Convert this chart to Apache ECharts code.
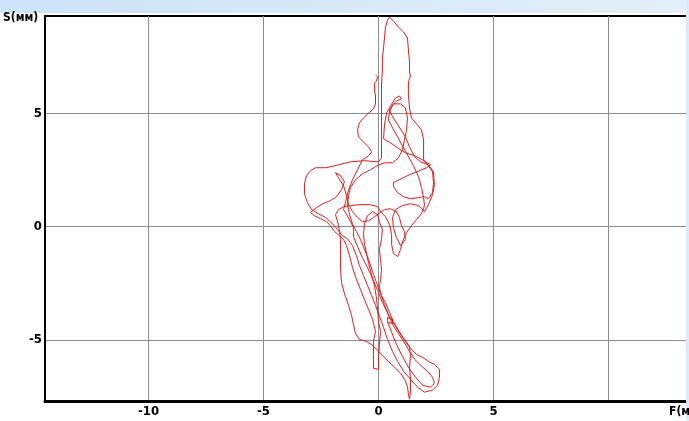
<!DOCTYPE html>
<html>
<head>
<meta charset="utf-8">
<script src="https://cdn.jsdelivr.net/npm/echarts@6/dist/echarts.min.js"></script>
<style>
  html, body { margin: 0; padding: 0; background: #fff; }
  #chart { width: 689px; height: 421px; }
</style>
</head>
<body>
<div id="chart"></div>
<script>
// Stabilogram: centre-of-pressure trace, F (frontal) vs S (sagittal), mm
const xGridTicks = [-10, -5, 0, 5, 10];
const xTickLabels = [-10, -5, 0, 5];
const yGridTicks = [-5, 0, 5];
const yTickLabels = [-5, 0, 5];
const xRange = [-14.5, 13.5];
const yRange = [-7.7, 9.3];
const xName = 'F(мм)';
const yName = 'S(мм)';

// Recorded trace, [F, S] in mm
const trace = [
  [-0.13, 6.70], [-0.04, 6.61], [-0.09, 6.43], [-0.17, 6.34], [-0.17, 5.95],
  [-0.13, 5.81], [-0.13, 5.42], [-0.22, 5.20], [-0.43, 5.02], [-0.65, 4.80],
  [-0.83, 4.58], [-0.91, 4.27], [-0.87, 3.96], [-0.65, 3.74], [-0.43, 3.52],
  [-0.30, 3.30], [-0.43, 3.13], [-0.70, 2.95], [-0.91, 2.51], [-1.13, 2.07],
  [-1.30, 1.63], [-1.43, 1.10], [-1.52, 0.75], [-1.35, 0.48], [-1.22, 0.22],
  [-1.09, -0.04], [-1.09, -0.44], [-0.91, -0.88], [-0.70, -1.37], [-0.48, -1.81],
  [-0.26, -2.29], [-0.04, -2.82], [0.17, -3.35], [0.43, -3.88], [0.74, -4.41],
  [1.04, -4.89], [1.35, -5.33], [1.65, -5.64], [1.91, -5.77], [2.17, -5.95],
  [2.43, -6.08], [2.65, -6.30], [2.65, -6.65], [2.57, -7.00], [2.35, -7.22],
  [2.00, -7.31], [1.70, -7.09], [1.39, -6.74], [1.09, -6.39], [0.83, -5.95],
  [0.61, -5.51], [0.39, -4.98], [0.22, -4.45], [0.04, -3.96], [-0.13, -3.48],
  [-0.30, -3.04], [-0.48, -2.60], [-0.65, -2.16], [-0.83, -1.72], [-0.96, -1.28],
  [-1.13, -0.84], [-1.35, -0.53], [-1.57, -0.40], [-1.78, -0.13], [-2.00, 0.13],
  [-2.30, 0.40], [-2.61, 0.57], [-2.91, 0.75], [-3.09, 1.06], [-3.22, 1.45],
  [-3.22, 1.89], [-3.13, 2.25], [-2.96, 2.47], [-2.74, 2.60], [-2.26, 2.60],
  [-1.74, 2.73], [-1.22, 2.86], [-0.61, 2.91], [0.00, 2.86], [0.13, 3.04],
  [0.13, 3.61], [0.13, 4.27], [0.13, 4.93], [0.13, 5.59], [0.13, 6.26],
  [0.17, 6.92], [0.17, 7.44], [0.22, 7.89], [0.26, 8.33], [0.30, 8.77],
  [0.39, 9.12], [0.48, 9.25], [0.65, 9.07], [0.87, 8.81], [1.09, 8.59],
  [1.26, 8.33], [1.30, 7.80], [1.35, 7.27], [1.35, 6.83], [1.39, 6.65],
  [1.30, 6.39], [1.30, 5.81], [1.35, 5.24], [1.43, 4.80], [1.65, 4.54],
  [1.87, 4.27], [1.96, 3.83], [1.96, 3.30], [1.96, 2.95], [2.17, 2.69],
  [2.35, 2.42], [2.39, 1.94], [2.35, 1.50], [2.17, 1.23], [2.00, 1.32],
  [1.74, 1.28], [1.39, 1.23], [1.09, 1.32], [0.83, 1.50], [0.65, 1.76],
  [0.65, 1.94], [0.91, 2.07], [1.26, 2.25], [1.65, 2.42], [2.09, 2.60],
  [2.26, 2.73], [1.91, 2.95], [1.57, 3.13], [1.17, 3.26], [0.83, 3.48],
  [0.52, 3.70], [0.22, 3.88], [0.26, 4.49], [0.35, 5.02], [0.52, 5.33],
  [0.74, 5.68], [0.91, 5.77], [1.00, 5.64], [0.78, 5.55], [0.61, 5.37],
  [0.48, 5.07], [0.43, 4.71], [0.61, 4.36], [0.83, 3.96], [1.04, 3.57],
  [1.26, 3.17], [1.52, 2.69], [1.74, 2.20], [1.87, 1.72], [1.96, 1.28],
  [2.00, 0.93], [1.87, 0.57], [1.65, 0.31], [1.43, 0.04], [1.22, -0.26],
  [1.04, -0.66], [0.96, -1.01], [0.83, -1.32], [0.65, -1.19], [0.57, -0.79],
  [0.57, -0.35], [0.48, 0.09], [0.30, 0.44], [0.09, 0.66], [-0.04, 0.88],
  [-0.35, 0.97], [-0.78, 0.97], [-1.22, 0.93], [-1.52, 0.88], [-1.74, 0.75],
  [-1.87, 0.53], [-1.74, 0.09], [-1.65, -0.57], [-1.65, -1.23], [-1.65, -1.89],
  [-1.61, -2.47], [-1.48, -2.95], [-1.30, -3.48], [-1.17, -3.92], [-1.09, -4.32],
  [-1.00, -4.71], [-0.83, -4.98], [-0.52, -5.07], [-0.26, -5.24], [-0.04, -5.46],
  [0.17, -5.68], [0.43, -5.95], [0.70, -6.21], [0.96, -6.48], [1.13, -6.74],
  [1.26, -7.05], [1.30, -7.40], [1.35, -7.62], [1.39, -7.27], [1.39, -6.74],
  [1.35, -6.21], [1.39, -5.68], [1.35, -5.29], [1.13, -4.98], [0.87, -4.58],
  [0.65, -4.19], [0.48, -3.79], [0.30, -3.35], [0.13, -3.04], [0.04, -2.69],
  [0.09, -2.33], [0.13, -1.89], [0.09, -1.45], [0.04, -1.01], [0.13, -0.57],
  [0.17, -0.13], [0.04, 0.22], [-0.04, 0.53], [-0.26, 0.66], [-0.48, 0.48],
  [-0.61, 0.13], [-0.65, -0.31], [-0.61, -0.75], [-0.52, -1.19], [-0.43, -1.63],
  [-0.30, -2.11], [-0.17, -2.64], [-0.09, -3.13], [-0.04, -3.66], [0.00, -4.19],
  [0.09, -4.63], [0.04, -5.20], [0.00, -5.77], [0.00, -6.30], [-0.22, -6.26],
  [-0.22, -5.64], [-0.22, -5.07], [-0.13, -4.63], [-0.26, -4.10], [-0.43, -3.66],
  [-0.61, -3.22], [-0.78, -2.78], [-0.96, -2.33], [-1.13, -1.81], [-1.26, -1.28],
  [-1.39, -0.84], [-1.52, -0.57], [-1.70, -0.40], [-1.91, -0.22], [-2.09, 0.04],
  [-2.26, 0.22], [-2.52, 0.35], [-2.78, 0.48], [-2.96, 0.62], [-2.70, 0.84],
  [-2.43, 1.01], [-2.09, 1.15], [-1.83, 1.32], [-1.61, 1.63], [-1.48, 1.98],
  [-1.65, 2.25], [-1.87, 2.38], [-1.74, 2.16], [-1.52, 1.81], [-1.39, 1.37],
  [-1.30, 0.97], [-1.13, 0.66], [-0.91, 0.40], [-0.70, 0.22], [-0.43, 0.26],
  [-0.22, 0.40], [0.00, 0.57], [0.26, 0.75], [0.52, 0.79], [0.78, 0.66],
  [0.91, 0.40], [1.00, 0.04], [1.13, -0.22], [1.17, -0.57], [0.96, -0.84],
  [0.78, -0.48], [0.65, -0.04], [0.61, 0.40], [0.74, 0.75], [1.04, 0.93],
  [1.39, 1.01], [1.74, 0.93], [2.00, 0.66], [2.17, 0.97], [2.35, 1.41],
  [2.43, 1.85], [2.39, 2.42], [2.17, 2.73], [1.83, 2.86], [1.57, 3.08],
  [1.35, 3.52], [1.17, 3.96], [0.87, 4.45], [0.61, 4.85], [0.48, 5.15],
  [0.65, 5.42], [0.96, 5.42], [1.17, 5.24], [1.26, 4.80], [1.22, 4.27],
  [1.13, 3.83], [1.04, 3.39], [0.87, 3.04], [0.61, 2.82], [0.30, 2.82],
  [0.00, 2.73], [-0.35, 2.51], [-0.70, 2.33], [-1.00, 2.07], [-1.22, 1.72],
  [-1.30, 1.37], [-1.35, 0.97], [-1.26, 0.53], [-1.13, 0.13], [-0.96, -0.22],
  [-0.78, -0.57], [-0.61, -1.01], [-0.43, -1.45], [-0.26, -1.98], [-0.09, -2.47],
  [0.09, -2.95], [0.26, -3.44], [0.43, -3.92], [0.61, -4.32], [0.83, -4.67],
  [1.09, -5.07], [1.35, -5.51], [1.57, -5.86], [1.83, -6.12], [2.13, -6.39],
  [2.35, -6.65], [2.43, -6.92], [2.26, -7.09], [1.91, -7.00], [1.61, -6.65],
  [1.30, -6.21], [1.04, -5.73], [0.78, -5.20], [0.57, -4.67], [0.39, -4.19],
  [0.39, -4.01], [0.61, -4.10], [0.61, -4.27], [0.39, -4.23]
];

const labelFontFamily = '"Liberation Sans Narrow", "DejaVu Sans Condensed", "Liberation Sans", sans-serif';
const labelFont = {
  fontFamily: labelFontFamily,
  fontWeight: 'bold',
  fontSize: 13,
  color: '#000'
};

const chart = echarts.init(document.getElementById('chart'), null, { renderer: 'canvas' });

chart.setOption({
  animation: false,
  backgroundColor: '#ffffff',
  grid: {
    left: 45, top: 16, right: 0, bottom: 20,
    show: true, borderColor: '#000', borderWidth: 2, backgroundColor: 'transparent'
  },
  xAxis: {
    type: 'value',
    min: xRange[0], max: xRange[1],
    axisLine: { show: true, onZero: false, lineStyle: { color: '#000', width: 3 } },
    axisTick: { show: false, customValues: xGridTicks },
    splitLine: { show: true, lineStyle: { color: '#8c8c8c', width: 1 } },
    axisLabel: Object.assign({ customValues: xTickLabels, margin: 4 }, labelFont)
  },
  yAxis: {
    type: 'value',
    min: yRange[0], max: yRange[1],
    axisLine: { show: true, onZero: false, lineStyle: { color: '#000', width: 2 } },
    axisTick: { show: false, customValues: yGridTicks },
    splitLine: { show: true, lineStyle: { color: '#8c8c8c', width: 1 } },
    axisLabel: Object.assign({ customValues: yTickLabels, margin: 3 }, labelFont)
  },
  graphic: [
    {
      type: 'rect', left: 0, top: 0, silent: true, z: -1,
      shape: { width: 689, height: 13 },
      style: {
        fill: new echarts.graphic.LinearGradient(0, 0, 1, 0, [
          { offset: 0, color: '#cde3f7' },
          { offset: 1, color: '#e4eff9' }
        ])
      }
    },
    {
      type: 'rect', left: 686, top: 0, silent: true, z: 10,
      shape: { width: 3, height: 421 },
      style: { fill: '#dcebf9' }
    },
    {
      type: 'text', left: 3, top: 12, z: 10,
      style: { text: yName, fill: '#000', font: 'bold 12px ' + labelFontFamily }
    },
    {
      type: 'text', left: 669, top: 406, z: 10,
      style: { text: xName, fill: '#000', font: 'bold 12px ' + labelFontFamily }
    }
  ],
  series: [{
    type: 'line',
    data: trace,
    showSymbol: false,
    symbol: 'none',
    clip: true,
    lineStyle: { color: '#d81e1e', width: 1 },
    z: 3
  }]
});
</script>
</body>
</html>
